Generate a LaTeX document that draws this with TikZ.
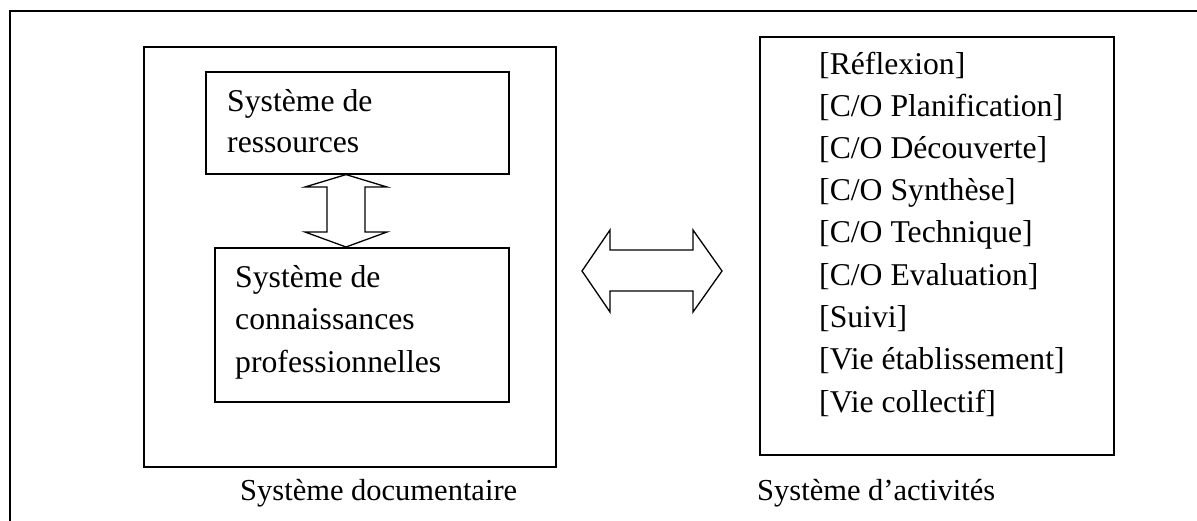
\documentclass[tikz,border=0pt]{standalone}
\usepackage{fontspec}
\setmainfont{Liberation Serif}
\begin{document}
\begin{tikzpicture}[x=1pt,y=-1pt,
  box/.style={draw, line width=1.6pt, inner sep=0pt, anchor=north west, fill=white},
  arr/.style={draw, line width=1.3pt, fill=white, line join=miter},
  txt/.style={anchor=base west, inner sep=0pt, font=\fontsize{31.7}{36}\selectfont},
  captxt/.style={anchor=base west, inner sep=0pt, font=\fontsize{30.5}{34}\selectfont}]
\clip (0,0) rectangle (1197,521);
\fill[white] (0,0) rectangle (1197,521);
% outer frame (cut at right and bottom)
\draw[line width=2.6pt] (10,530) -- (10,11) -- (1205,11);
% left big box
\node[box, minimum width=412pt, minimum height=420pt] (doc) at (143,46) {};
\node[box, minimum width=303pt, minimum height=102pt] (res) at (205,71) {};
\node[box, minimum width=294pt, minimum height=154pt] (con) at (214,247) {};
% right box
\node[box, minimum width=354pt, minimum height=418pt] (act) at (759,36) {};
% vertical double arrow
\draw[arr] (res.south -| 346,0) -- (387,187) -- (365,187) -- (365,232) -- (387,232)
  -- (con.north -| 346,0) -- (305,232) -- (327,232) -- (327,187) -- (305,187) -- cycle;
% horizontal double arrow
\coordinate (hl) at (582,271);
\coordinate (hr) at (722,271);
\draw[arr] (hl) -- (610,230) -- (610,250) -- (693,250) -- (693,230) -- (hr)
  -- (693,312) -- (693,291) -- (610,291) -- (610,312) -- cycle;
% texts
\node[txt] (t1) at (227,112) {Système de};
\node[txt] (t2) at (227,153) {ressources};
\node[txt] (t3) at (235,288) {Système de};
\node[txt] (t4) at (235,330) {connaissances};
\node[txt] (t5) at (235,372) {professionnelles};
\node[txt] (a1) at (819,75) {[Réflexion]};
\node[txt] (a2) at (819,117) {[C/O Planification]};
\node[txt] (a3) at (819,159) {[C/O Découverte]};
\node[txt] (a4) at (819,201) {[C/O Synthèse]};
\node[txt] (a5) at (819,243) {[C/O Technique]};
\node[txt] (a6) at (819,286) {[C/O Evaluation]};
\node[txt] (a7) at (819,328) {[Suivi]};
\node[txt] (a8) at (819,370) {[Vie établissement]};
\node[txt] (a9) at (819,412) {[Vie collectif]};
\node[captxt] (c1) at (240,500) {Système documentaire};
\node[captxt] (c2) at (757,500) {Système d’activités};
\end{tikzpicture}
\end{document}
